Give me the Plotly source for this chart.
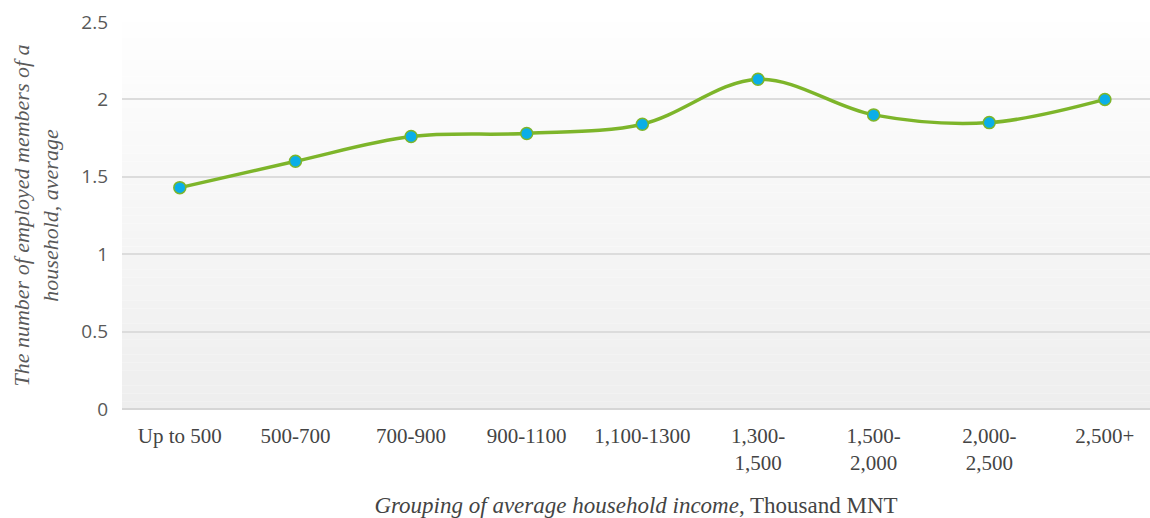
import plotly.graph_objects as go

# Income groups (thousand MNT) and average employed members per household
categories = ["Up to 500", "500-700", "700-900", "900-1100", "1,100-1300",
              "1,300-<br>1,500", "1,500-<br>2,000", "2,000-<br>2,500", "2,500+"]
employed_avg = [1.43, 1.60, 1.76, 1.78, 1.84, 2.13, 1.90, 1.85, 2.00]

y_ticks = [0, 0.5, 1, 1.5, 2, 2.5]
y_tick_text = ["0", "0.5", "1", "1.5", "2", "2.5"]

fig = go.Figure()

# Soft vertical gradient behind the plot area (white at top, light grey at bottom)
n_bands = 50
shapes = []
for i in range(n_bands):
    t = i / (n_bands - 1)
    g = int(round(254 - t * (254 - 238)))
    shapes.append(dict(
        type="rect", xref="x domain", yref="y domain",
        x0=0, x1=1, y0=1 - (i + 1) / n_bands, y1=1 - i / n_bands,
        fillcolor=f"rgb({g},{g},{g})", line=dict(width=0), layer="below",
    ))

fig.add_trace(go.Scatter(
    x=categories, y=employed_avg, mode="lines+markers",
    line=dict(color="#7db52a", width=3.5, shape="spline", smoothing=1.0),
    marker=dict(color="#0aaee8", size=12, line=dict(color="#7db52a", width=1.5)),
    hoverinfo="x+y", showlegend=False,
))

fig.update_layout(
    width=1150, height=518,
    margin=dict(l=122, r=0, t=22, b=109),
    paper_bgcolor="white", plot_bgcolor="rgba(0,0,0,0)",
    shapes=shapes,
    xaxis=dict(
        type="category", range=[-0.5, 8.39],
        showgrid=False, zeroline=False, showline=False, ticks="",
        tickfont=dict(family="Liberation Serif", size=21, color="#444444"),
        ticklabelstandoff=12,
        title=dict(
            text="<i>Grouping of average household income</i>, Thousand MNT",
            font=dict(family="Liberation Serif", size=23, color="#444444"),
            standoff=26,
        ),
    ),
    yaxis=dict(
        range=[0, 2.5], tickvals=y_ticks, ticktext=y_tick_text,
        showgrid=True, gridcolor="#dcdcdc", gridwidth=2,
        zeroline=True, zerolinecolor="#d6d6d6", zerolinewidth=2,
        showline=False, ticks="",
        tickfont=dict(family="Open Sans", size=19, color="#595959"),
        ticklabelstandoff=13,
        title=dict(
            text="<i>The number of employed members of a<br>household, average</i>",
            font=dict(family="Liberation Serif", size=22, color="#595959"),
            standoff=16,
        ),
    ),
)

fig.write_html("out.html")
